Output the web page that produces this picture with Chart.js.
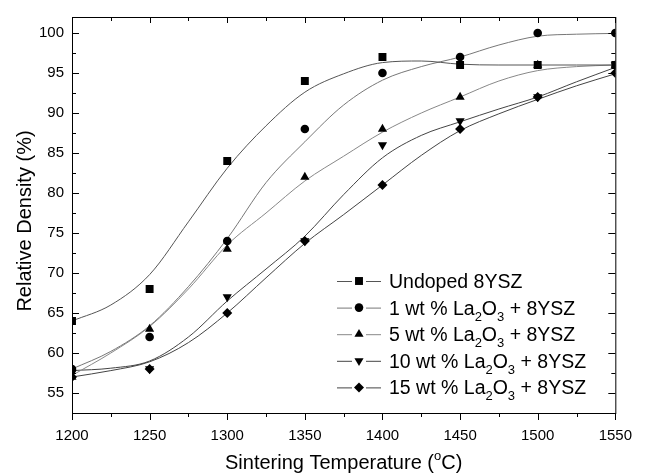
<!DOCTYPE html>
<html>
<head>
<meta charset="utf-8">
<script src="https://cdn.jsdelivr.net/npm/chart.js@4.4.1/dist/chart.umd.min.js"></script>
<style>
  html, body { margin: 0; padding: 0; background: #fff; }
  #wrap { width: 646px; height: 474px; }
</style>
</head>
<body>
<div id="wrap"><canvas id="chart" width="646" height="474"></canvas></div>
<script>
// measured points
const temps = [1200, 1250, 1300, 1350, 1400, 1450, 1500, 1550];
const undoped = [64, 68, 84, 94, 97, 96, 96, 96];
const la1 = [58, 62, 74, 88, 95, 97, 100, 100];
const la5 = [57, 63, 73, 82, 88, 92, 96, 96];
const la10 = [57.5, 58, 67, 74, 86, 89, 92, 96];
const la15 = [57, 58, 65, 74, 81, 88, 92, 95];

// fitted curves, every 25 °C
const fitTemps = [1200, 1225, 1250, 1275, 1300, 1325, 1350, 1375, 1400, 1425, 1450, 1475, 1500, 1525, 1550];
const fitUndoped = [64.0, 66.0, 69.8, 76.4, 83.1, 88.4, 92.6, 94.9, 96.3, 96.5, 96.1, 96.0, 96.0, 96.0, 96.0];
const fitLa1 = [58.0, 60.2, 63.4, 68.3, 74.3, 81.3, 86.4, 91.0, 94.1, 95.8, 97.0, 98.5, 99.6, 99.85, 99.95];
const fitLa5 = [57.2, 60.0, 63.3, 68.0, 73.5, 77.5, 81.5, 84.6, 87.6, 90.0, 92.0, 94.0, 95.3, 95.8, 96.0];
const fitLa10 = [57.8, 58.1, 59.0, 62.0, 66.5, 70.5, 74.6, 79.8, 84.4, 87.2, 88.9, 90.5, 92.0, 93.9, 95.7];
const fitLa15 = [57.0, 57.8, 58.9, 61.3, 65.0, 69.4, 73.7, 77.3, 81.0, 84.7, 87.8, 89.9, 91.7, 93.4, 94.9];

const xTicks = [1200, 1250, 1300, 1350, 1400, 1450, 1500, 1550];
const yTicks = [55, 60, 65, 70, 75, 80, 85, 90, 95, 100];

const seriesNames = ['Undoped 8YSZ', '1 wt % La_2O_3 + 8YSZ', '5 wt % La_2O_3 + 8YSZ', '10 wt % La_2O_3 + 8YSZ', '15 wt % La_2O_3 + 8YSZ'];

const FONT = "'Liberation Sans', Arial, Helvetica, sans-serif";

const markers = [
    { style: 'rect', radius: 5.6, rotation: 0 },
    { style: 'circle', radius: 4.3, rotation: 0 },
    { style: 'triangle', radius: 5.3, rotation: 0 },
    { style: 'triangle', radius: 5.3, rotation: 180 },
    { style: 'rectRot', radius: 5, rotation: 0 }
];
const curveColors = ['#555', '#777', '#888', '#444', '#444'];

const pointSets = [undoped, la1, la5, la10, la15];
const fitSets = [fitUndoped, fitLa1, fitLa5, fitLa10, fitLa15];

const toXY = (xs, ys) => xs.map((x, i) => ({ x: x, y: ys[i] }));

const datasets = [];
// markers first so they sit on top of the curves
pointSets.forEach((vals, i) => {
    datasets.push({
        label: seriesNames[i],
        data: toXY(temps, vals),
        showLine: false,
        pointStyle: markers[i].style,
        pointRadius: markers[i].radius,
        pointRotation: markers[i].rotation,
        pointBackgroundColor: '#000',
        pointBorderColor: '#000',
        pointBorderWidth: 0,
        pointHoverRadius: markers[i].radius,
        clip: 0
    });
});
fitSets.forEach((vals, i) => {
    datasets.push({
        label: seriesNames[i] + ' fit',
        data: toXY(fitTemps, vals),
        showLine: true,
        pointRadius: 0,
        borderColor: curveColors[i],
        borderWidth: 1,
        cubicInterpolationMode: 'monotone',
        fill: false,
        clip: 0
    });
});

// draw text with "_x" parts as subscripts
function drawRich(ctx, str, x, y, size, subSize) {
    const parts = str.split(/(_\d)/).filter(s => s.length);
    parts.forEach(p => {
        if (p[0] === '_') {
            ctx.font = subSize + 'px ' + FONT;
            ctx.fillText(p.slice(1), x, y + 6);
            x += ctx.measureText(p.slice(1)).width;
        } else {
            ctx.font = size + 'px ' + FONT;
            ctx.fillText(p, x, y);
            x += ctx.measureText(p).width;
        }
    });
}

const framePlugin = {
    id: 'frame',
    afterDatasetsDraw(chart) {
        const ctx = chart.ctx;
        const a = chart.chartArea;
        const xs = chart.scales.x, ys = chart.scales.y;
        ctx.save();
        ctx.strokeStyle = '#000';
        ctx.lineWidth = 1;
        ctx.strokeRect(a.left + 0.5, a.top + 0.5, a.right - a.left, a.bottom - a.top);

        ctx.beginPath();
        // x ticks: bottom outward, top inward
        for (let i = 0; i < xTicks.length; i++) {
            const px = Math.round(xs.getPixelForValue(xTicks[i])) + 0.5;
            ctx.moveTo(px, a.bottom); ctx.lineTo(px, a.bottom + 7);
            ctx.moveTo(px, a.top); ctx.lineTo(px, a.top + 6);
            if (i < xTicks.length - 1) {
                const mx = Math.round(xs.getPixelForValue((xTicks[i] + xTicks[i + 1]) / 2)) + 0.5;
                ctx.moveTo(mx, a.bottom); ctx.lineTo(mx, a.bottom + 4);
                ctx.moveTo(mx, a.top); ctx.lineTo(mx, a.top + 4);
            }
        }
        // y ticks: inward on both sides
        const yAll = [52.5].concat(yTicks);
        for (let i = 0; i < yAll.length; i++) {
            const v = yAll[i];
            const py = Math.round(ys.getPixelForValue(v)) + 0.5;
            const major = v % 5 === 0;
            const len = major ? 7 : 4;
            if (v > 52.5) {
                ctx.moveTo(a.left, py); ctx.lineTo(a.left + len, py);
                ctx.moveTo(a.right, py); ctx.lineTo(a.right - len, py);
            }
            if (major) {
                const my = Math.round(ys.getPixelForValue(v + 2.5)) + 0.5;
                if (my > a.top) {
                    ctx.moveTo(a.left, my); ctx.lineTo(a.left + 4, my);
                    ctx.moveTo(a.right, my); ctx.lineTo(a.right - 4, my);
                }
            }
        }
        ctx.stroke();

        // axis titles
        ctx.fillStyle = '#000';
        ctx.textBaseline = 'alphabetic';
        const t1 = 'Sintering Temperature (', t2 = 'C)';
        ctx.font = '20px ' + FONT;
        const w1 = ctx.measureText(t1).width, w3 = ctx.measureText(t2).width;
        ctx.font = '13px ' + FONT;
        const w2 = ctx.measureText('o').width;
        let tx = (a.left + a.right) / 2 - (w1 + w2 + w3) / 2;
        const ty = 469;
        ctx.font = '20px ' + FONT;
        ctx.fillText(t1, tx, ty); tx += w1;
        ctx.font = '13px ' + FONT;
        ctx.fillText('o', tx, ty - 9); tx += w2;
        ctx.font = '20px ' + FONT;
        ctx.fillText(t2, tx, ty);

        ctx.save();
        ctx.translate(31, 221);
        ctx.rotate(-Math.PI / 2);
        ctx.textAlign = 'center';
        ctx.font = '20px ' + FONT;
        ctx.fillText('Relative Density (%)', 0, 0);
        ctx.restore();

        // legend
        const baseY = 281, step = 26.6;
        for (let i = 0; i < seriesNames.length; i++) {
            const cy = baseY + i * step;
            ctx.strokeStyle = curveColors[i];
            ctx.beginPath();
            ctx.moveTo(337, cy + 0.5); ctx.lineTo(352, cy + 0.5);
            ctx.moveTo(366, cy + 0.5); ctx.lineTo(381, cy + 0.5);
            ctx.stroke();
            ctx.fillStyle = '#000';
            Chart.helpers.drawPoint(ctx, {
                pointStyle: markers[i].style,
                radius: markers[i].radius,
                rotation: markers[i].rotation,
                borderWidth: 0
            }, 359, cy);
            ctx.fillStyle = '#000';
            ctx.textBaseline = 'alphabetic';
            drawRich(ctx, seriesNames[i], 389, cy + 7, 19.5, 13);
        }
        ctx.restore();
    }
};

new Chart(document.getElementById('chart'), {
    type: 'scatter',
    data: { datasets: datasets },
    options: {
        responsive: false,
        animation: false,
        events: [],
        layout: { padding: { top: 9, right: 30, left: 0, bottom: 0 } },
        plugins: { legend: { display: false }, tooltip: { enabled: false } },
        scales: {
            x: {
                type: 'linear',
                min: 1200,
                max: 1550,
                afterBuildTicks: s => { s.ticks = xTicks.map(v => ({ value: v })); },
                afterFit: s => { s.height = 61; },
                grid: { display: false, drawTicks: false },
                border: { display: false },
                ticks: { color: '#000', font: { family: FONT, size: 15 }, padding: 14, maxRotation: 0, callback: v => String(v) }
            },
            y: {
                type: 'linear',
                min: 52.5,
                max: 102,
                afterBuildTicks: s => { s.ticks = yTicks.map(v => ({ value: v })); },
                afterFit: s => { s.width = 72; },
                grid: { display: false, drawTicks: false },
                border: { display: false },
                ticks: { color: '#000', font: { family: FONT, size: 15 }, padding: 8, callback: v => String(v) }
            }
        }
    },
    plugins: [framePlugin]
});
</script>
</body>
</html>
